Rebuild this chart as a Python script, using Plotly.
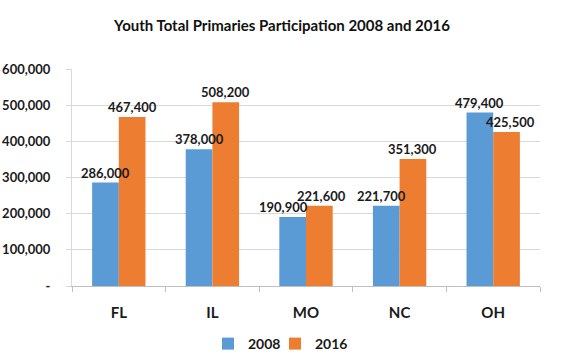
import plotly.graph_objects as go

states = ["FL", "IL", "MO", "NC", "OH"]
values_2008 = [286000, 378000, 190900, 221700, 479400]
values_2016 = [467400, 508200, 221600, 351300, 425500]
y_tick_vals = [0, 100000, 200000, 300000, 400000, 500000, 600000]
y_tick_text = ["-", "100,000", "200,000", "300,000", "400,000", "500,000", "600,000"]
title_text = "Youth Total Primaries Participation 2008 and 2016"

# small horizontal nudges for labels (px), as in the reference
nudge_2008 = [0, 0, -9, -5, 0]
nudge_2016 = [0, 0, 2, 0, 4]

FONT = "Lato"
W, H = 564, 364
ML, MR, MT, MB = 72, 24, 69, 78
BARGAP = 0.43
cat_w = (W - ML - MR) / len(states)
bar_w = cat_w * (1 - BARGAP) / 2

label_font = dict(family=FONT, size=13, color="#1a1a1a", weight="bold")
legend_font = dict(family=FONT, size=14, color="#1a1a1a", weight="bold")

fig = go.Figure()
fig.add_trace(go.Bar(name="2008", x=states, y=values_2008, legend="legend",
                     marker=dict(color="#5B9BD5", line=dict(width=0))))
fig.add_trace(go.Bar(name="2016", x=states, y=values_2016, legend="legend2",
                     marker=dict(color="#ED7D31", line=dict(width=0))))

annotations = []
for vals, side, nudges in ((values_2008, -1, nudge_2008), (values_2016, 1, nudge_2016)):
    for s, v, n in zip(states, vals, nudges):
        annotations.append(dict(
            x=s, y=v, xref="x", yref="y", text=f"{v:,}", showarrow=False,
            xanchor="center", yanchor="bottom", xshift=side * bar_w / 2 + n, yshift=0,
            font=label_font,
        ))

fig.update_layout(
    width=W, height=H,
    margin=dict(l=ML, r=MR, t=MT, b=MB, autoexpand=False),
    paper_bgcolor="white", plot_bgcolor="white",
    barmode="group", bargap=BARGAP, bargroupgap=0,
    title=dict(text=title_text, x=0.5, xanchor="center", y=1 - 26 / H, yanchor="middle",
               font=dict(family=FONT, size=15, color="#111111", weight="bold")),
    legend=dict(orientation="h", xref="container", yref="container",
                x=208 / W, xanchor="left", y=1 - 344 / H, yanchor="middle",
                font=legend_font, itemwidth=30, bgcolor="rgba(0,0,0,0)"),
    legend2=dict(orientation="h", xref="container", yref="container",
                 x=275 / W, xanchor="left", y=1 - 344 / H, yanchor="middle",
                 font=legend_font, itemwidth=30, bgcolor="rgba(0,0,0,0)"),
    showlegend=True,
    annotations=annotations,
)
fig.update_xaxes(
    showline=True, linecolor="#BFBFBF", linewidth=1,
    ticks="outside", tickson="boundaries", ticklen=5, tickcolor="#BFBFBF",
    ticklabelstandoff=13, automargin=False,
    tickfont=dict(family=FONT, size=15, color="#1a1a1a", weight="bold"),
    showgrid=False,
)
fig.update_yaxes(
    range=[0, 600000], tickvals=y_tick_vals, ticktext=y_tick_text,
    showline=True, linecolor="#D9D9D9", linewidth=1,
    showgrid=True, gridcolor="#D9D9D9", gridwidth=1,
    ticks="outside", ticklen=5, tickcolor="#D9D9D9", ticklabelstandoff=13, zeroline=False,
    automargin=False,
    tickfont=dict(family=FONT, size=13, color="#1a1a1a", weight="bold"),
)
fig.write_html("out.html", config={"displayModeBar": False},
               post_script="document.body.style.margin='0';")
